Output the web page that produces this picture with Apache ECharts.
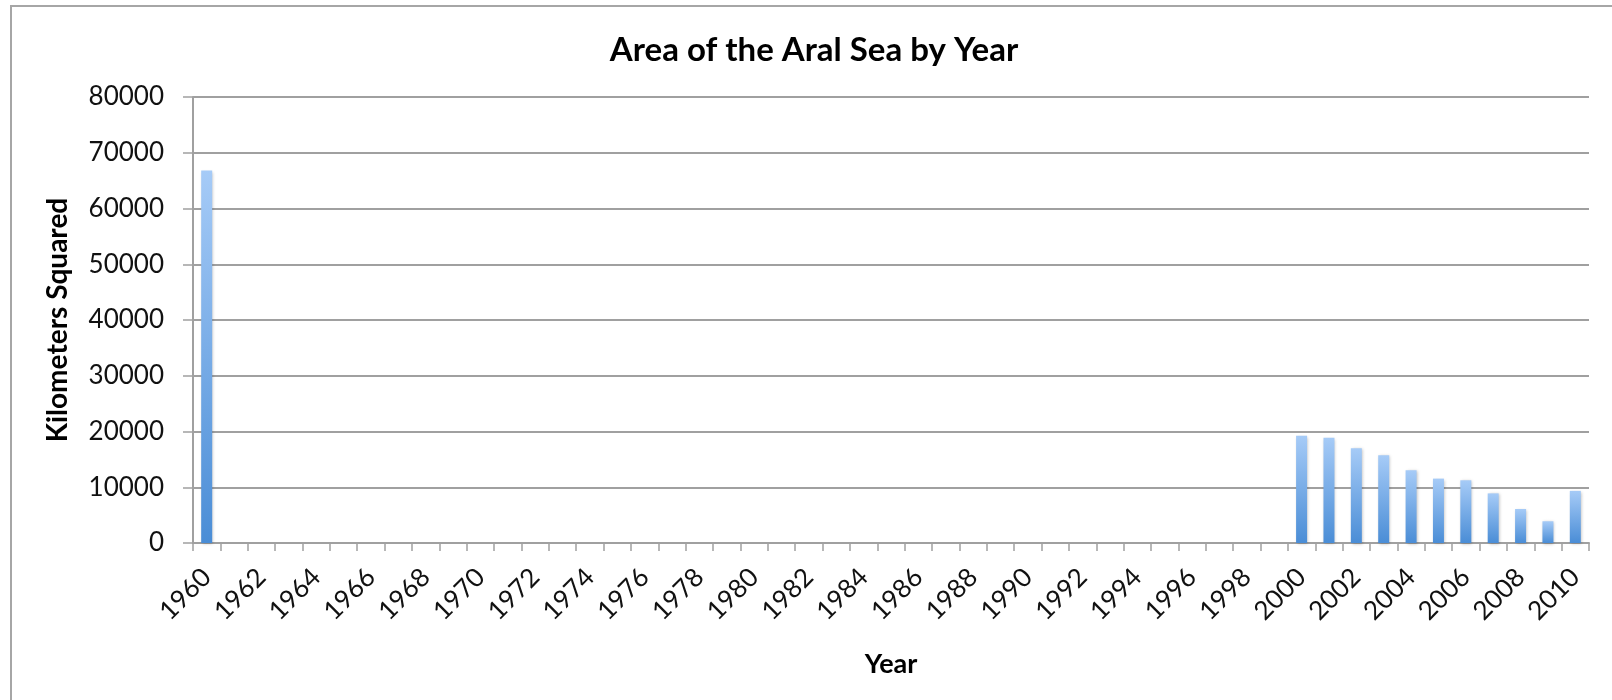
<!DOCTYPE html>
<html>
<head>
<meta charset="utf-8">
<script src="https://cdn.jsdelivr.net/npm/echarts@6/dist/echarts.min.js"></script>
<style>
html,body{margin:0;padding:0;background:#fff;}
#c{width:1612px;height:700px;}
</style>
</head>
<body>
<div id="c"></div>
<script>
const years = [];
for (let y = 1960; y <= 2010; y++) years.push(String(y));
// Known values (km²); other years have no bar
const knownYears = ['1960','2000','2001','2002','2003','2004','2005','2006','2007','2008','2009','2010'];
const knownAreas = [66800, 19250, 18900, 17000, 15750, 13050, 11550, 11250, 8900, 6100, 3900, 9350];
const yTicks = [0, 10000, 20000, 30000, 40000, 50000, 60000, 70000, 80000];

const areas = years.map(y => {
  const i = knownYears.indexOf(y);
  return i >= 0 ? knownAreas[i] : null;
});

const FONT = 'Lato';
const chart = echarts.init(document.getElementById('c'), null, {renderer: 'canvas'});
chart.setOption({
  animation: false,
  backgroundColor: '#ffffff',
  textStyle: {fontFamily: FONT},
  graphic: [{
    type: 'rect', silent: true, z: -1,
    shape: {x: 11, y: 6, width: 1800, height: 900},
    style: {fill: 'none', stroke: '#a6a6a6', lineWidth: 2}
  }],
  title: {
    text: 'Area of the Aral Sea by Year',
    left: 809, top: 29, textAlign: 'center',
    textStyle: {fontFamily: FONT, fontSize: 33, fontWeight: 'bold', color: '#000'}
  },
  grid: {left: 193, right: 23, top: 97, bottom: 157, containLabel: false},
  xAxis: {
    type: 'category',
    data: years,
    name: 'Year',
    nameLocation: 'middle',
    nameGap: 108,
    nameTextStyle: {fontFamily: FONT, fontSize: 27, fontWeight: 'bold', color: '#000'},
    axisLine: {lineStyle: {color: '#a0a0a0', width: 2}},
    axisTick: {show: true, interval: 0, alignWithLabel: false, length: 8, lineStyle: {color: '#a0a0a0', width: 1.5}},
    axisLabel: {interval: 1, rotate: 45, margin: 30, fontFamily: FONT, fontSize: 26, color: '#111'},
    splitLine: {show: false}
  },
  yAxis: {
    type: 'value',
    min: 0, max: 80000, interval: 10000,
    name: 'Kilometers Squared',
    nameLocation: 'middle',
    nameGap: 121,
    nameTextStyle: {fontFamily: FONT, fontSize: 28, fontWeight: 'bold', color: '#000'},
    axisLine: {show: true, lineStyle: {color: '#a0a0a0', width: 2}},
    axisTick: {show: true, length: 10, lineStyle: {color: '#a0a0a0', width: 1.5}},
    axisLabel: {
      margin: 29, fontFamily: FONT, fontSize: 26, color: '#111',
      formatter: v => yTicks.indexOf(v) >= 0 ? String(v) : ''
    },
    splitLine: {show: true, lineStyle: {color: '#a0a0a0', width: 2}}
  },
  series: [{
    type: 'bar',
    data: areas,
    barWidth: 11,
    itemStyle: {
      color: new echarts.graphic.LinearGradient(0, 0, 0, 1, [
        {offset: 0, color: '#a6cbf7'},
        {offset: 1, color: '#4a8dd6'}
      ]),
      shadowColor: 'rgba(0,0,0,0.25)',
      shadowBlur: 3,
      shadowOffsetX: 1,
      shadowOffsetY: 1
    }
  }]
});
</script>
</body>
</html>
